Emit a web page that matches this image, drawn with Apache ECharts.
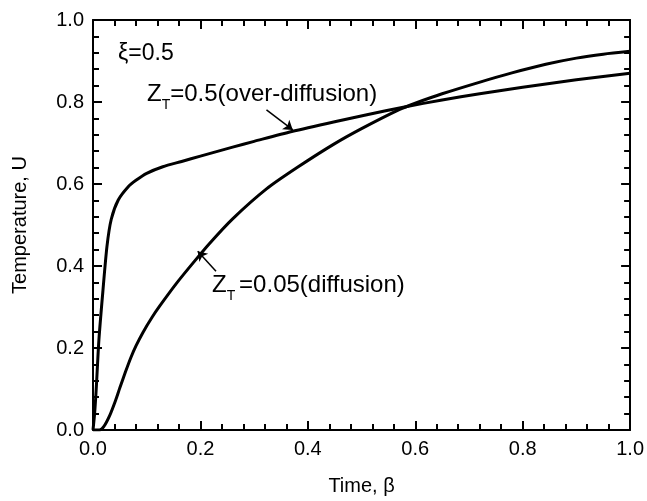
<!DOCTYPE html>
<html>
<head>
<meta charset="utf-8">
<script src="https://cdn.jsdelivr.net/npm/echarts@6/dist/echarts.min.js"></script>
<style>
html,body{margin:0;padding:0;background:#fff;}
#chart{width:647px;height:501px;}
</style>
</head>
<body>
<div id="chart"></div>
<script>
// Z_T = 0.5 (over-diffusion)
const overX = [0, 0.003, 0.006, 0.011, 0.0185, 0.026, 0.034, 0.047, 0.066, 0.08, 0.1, 0.13, 0.165, 0.2, 0.26, 0.3, 0.37, 0.45, 0.51, 0.58, 0.65, 0.72, 0.8, 0.9, 1.0];
const overY = [0, 0.04, 0.10, 0.22, 0.34, 0.448, 0.514, 0.561, 0.594, 0.609, 0.626, 0.642, 0.655, 0.668, 0.690, 0.704, 0.728, 0.752, 0.769, 0.788, 0.805, 0.820, 0.836, 0.854, 0.870];
// Z_T = 0.05 (diffusion)
const diffX = [0, 0.012, 0.02, 0.031, 0.042, 0.05, 0.06, 0.07, 0.08, 0.093, 0.11, 0.124, 0.155, 0.186, 0.217, 0.26, 0.323, 0.38, 0.447, 0.5, 0.571, 0.6, 0.65, 0.719, 0.78, 0.843, 0.9, 0.95, 1.0];
const diffY = [0, 0, 0.008, 0.035, 0.072, 0.103, 0.14, 0.175, 0.205, 0.238, 0.275, 0.302, 0.357, 0.407, 0.455, 0.515, 0.588, 0.64, 0.696, 0.735, 0.782, 0.797, 0.820, 0.848, 0.871, 0.892, 0.907, 0.9165, 0.9235];
// annotation arrows [from, to] in data coordinates
const arrowOver = [[0.323, 0.781], [0.372, 0.732]];
const arrowDiff = [[0.229, 0.387], [0.195, 0.436]];
const xTicks = { min: 0, max: 1, step: 0.2 };
const yTicks = { min: 0, max: 1, step: 0.2 };

const FONT = 'Liberation Sans, Arial, Helvetica, sans-serif';
const pair = (xs, ys) => xs.map((x, i) => [x, ys[i]]);

function axisBase(pos, t, showLabel) {
  return {
    type: 'value', position: pos, min: t.min, max: t.max, interval: t.step,
    axisLine: { show: true, onZero: false, lineStyle: { color: '#000', width: 2 } },
    axisTick: { show: true, inside: true, length: 9, lineStyle: { color: '#000', width: 2 } },
    minorTick: { show: true, splitNumber: 5, length: 6, lineStyle: { color: '#000', width: 2 } },
    splitLine: { show: false },
    minorSplitLine: { show: false },
    axisLabel: { show: showLabel, color: '#000', fontFamily: FONT, fontSize: 20, margin: 9,
      formatter: v => v.toFixed(1) }
  };
}

const chart = echarts.init(document.getElementById('chart'), null, { renderer: 'canvas' });
const xMain = axisBase('bottom', xTicks, true);
xMain.name = 'Time, \u03b2';
xMain.nameLocation = 'middle';
xMain.nameGap = 46;
xMain.nameTextStyle = { color: '#000', fontFamily: FONT, fontSize: 20 };
const yMain = axisBase('left', yTicks, true);
yMain.name = 'Temperature, U';
yMain.nameLocation = 'middle';
yMain.nameGap = 63;
yMain.nameTextStyle = { color: '#000', fontFamily: FONT, fontSize: 20 };

const lineStyle = { color: '#000', width: 3 };
const arrowML = (a) => ({
  silent: true,
  symbol: ['none', 'arrow'],
  symbolSize: 9,
  label: { show: false },
  lineStyle: { color: '#000', width: 1.5, type: 'solid' },
  data: [[{ coord: a[0] }, { coord: a[1] }]]
});

chart.setOption({
  animation: false,
  backgroundColor: '#fff',
  grid: { left: 93, right: 16, top: 20, bottom: 70, containLabel: false },
  xAxis: [xMain, axisBase('top', xTicks, false)],
  yAxis: [yMain, axisBase('right', yTicks, false)],
  series: [
    { type: 'line', name: 'over', data: pair(overX, overY), showSymbol: false, smooth: 0.25,
      lineStyle: lineStyle, itemStyle: { color: '#000' }, markLine: arrowML(arrowOver) },
    { type: 'line', name: 'diff', data: pair(diffX, diffY), showSymbol: false, smooth: 0.25,
      lineStyle: lineStyle, itemStyle: { color: '#000' }, markLine: arrowML(arrowDiff) }
  ],
  graphic: [
    { type: 'text', left: 118, top: 42, style: { text: '\u03be=0.5', fill: '#000', font: '23px ' + FONT } },
    { type: 'text', left: 147, top: 82, style: {
        text: '{n|Z}{s|T}{n|=0.5(over-diffusion)}',
        rich: { n: { fontSize: 24, fontFamily: FONT, fill: '#000', lineHeight: 36 },
                s: { fontSize: 14, fontFamily: FONT, fill: '#000', lineHeight: 12, verticalAlign: 'bottom' } } } },
    { type: 'text', left: 212, top: 273, style: {
        text: '{n|Z}{s|T }{n|=0.05(diffusion)}',
        rich: { n: { fontSize: 24, fontFamily: FONT, fill: '#000', lineHeight: 36 },
                s: { fontSize: 14, fontFamily: FONT, fill: '#000', lineHeight: 12, verticalAlign: 'bottom' } } } }
  ]
});
</script>
</body>
</html>
